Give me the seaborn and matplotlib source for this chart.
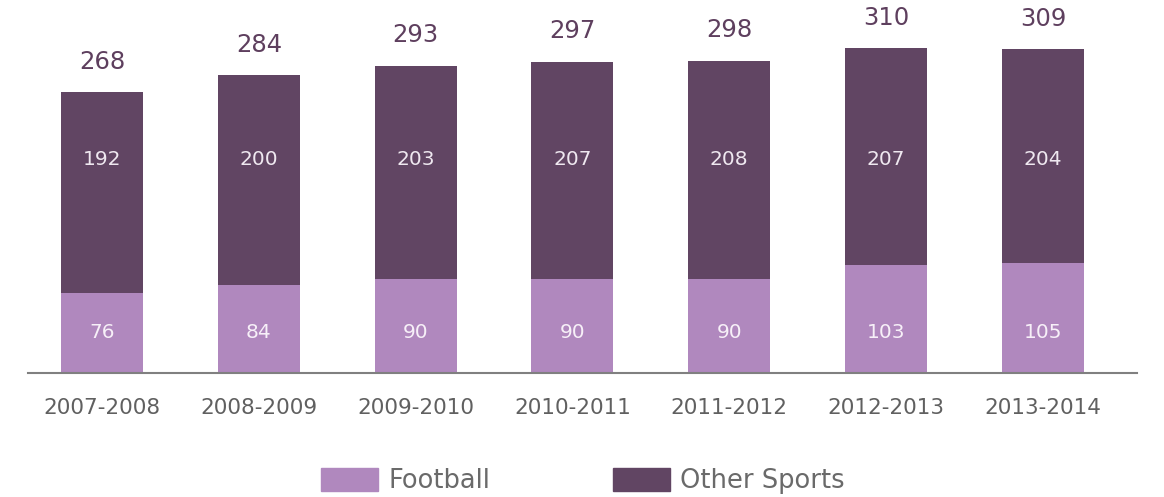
import matplotlib
matplotlib.use("Agg")
import matplotlib.pyplot as plt
import matplotlib.patches as mpatches
import seaborn as sns
import pandas as pd

seasons = ["2007-2008", "2008-2009", "2009-2010", "2010-2011", "2011-2012", "2012-2013", "2013-2014"]
football = [76, 84, 90, 90, 90, 103, 105]
other_sports = [192, 200, 203, 207, 208, 207, 204]
totals = [268, 284, 293, 297, 298, 310, 309]
series_names = ["Football", "Other Sports"]

c_foot = "#B088BE"
c_other = "#614563"
c_total_txt = "#5E3F5E"
c_tick = "#606060"

sns.set_theme(style="white")
plt.rcParams["font.family"] = ["DejaVu Sans"]

df = pd.DataFrame({"season": seasons, "football": football,
                   "other": other_sports, "total": totals})

fig = plt.figure(figsize=(11.64, 4.97), dpi=100)
ax = fig.add_axes([28 / 1164, 124 / 497, 1109 / 1164, 372 / 497])

sns.barplot(data=df, x="season", y="total", color=c_other, width=0.523,
            saturation=1, linewidth=0, ax=ax)
sns.barplot(data=df, x="season", y="football", color=c_foot, width=0.523,
            saturation=1, linewidth=0, ax=ax)

ax.set_xlim(-0.472, 6.6)
ax.set_ylim(0, 355)
ax.set_xlabel("")
ax.set_ylabel("")
ax.set_yticks([])
for s in ["top", "left", "right"]:
    ax.spines[s].set_visible(False)
ax.spines["bottom"].set_color("#808080")
ax.spines["bottom"].set_linewidth(1.5)
ax.tick_params(axis="x", length=0, pad=18, labelsize=15.5, labelcolor=c_tick)

tr = ax.get_xaxis_transform()
for i, (f, o, t) in enumerate(zip(football, other_sports, totals)):
    ax.text(i, 0.575, str(o), transform=tr, ha="center", va="center",
            fontsize=14.5, color="#EFE8F0")
    ax.text(i, 0.108, str(f), transform=tr, ha="center", va="center",
            fontsize=14.5, color="#F7F0F8")
    ax.annotate(str(t), xy=(i, t), xytext=(0, 22), textcoords="offset points",
                ha="center", va="center", fontsize=17.5, color=c_total_txt)

handles = [mpatches.Patch(color=c_foot, label=series_names[0]),
           mpatches.Patch(color=c_other, label=series_names[1])]
fig.legend(handles=handles, loc="center", bbox_to_anchor=(583 / 1164, 1 - 481 / 497),
           ncol=2, frameon=False, fontsize=18.5, labelcolor="#6A6A6A",
           handlelength=2.2, handleheight=1.0, handletextpad=0.4, columnspacing=4.8,
           borderpad=0, borderaxespad=0)

fig.savefig("out.png", dpi=100)
